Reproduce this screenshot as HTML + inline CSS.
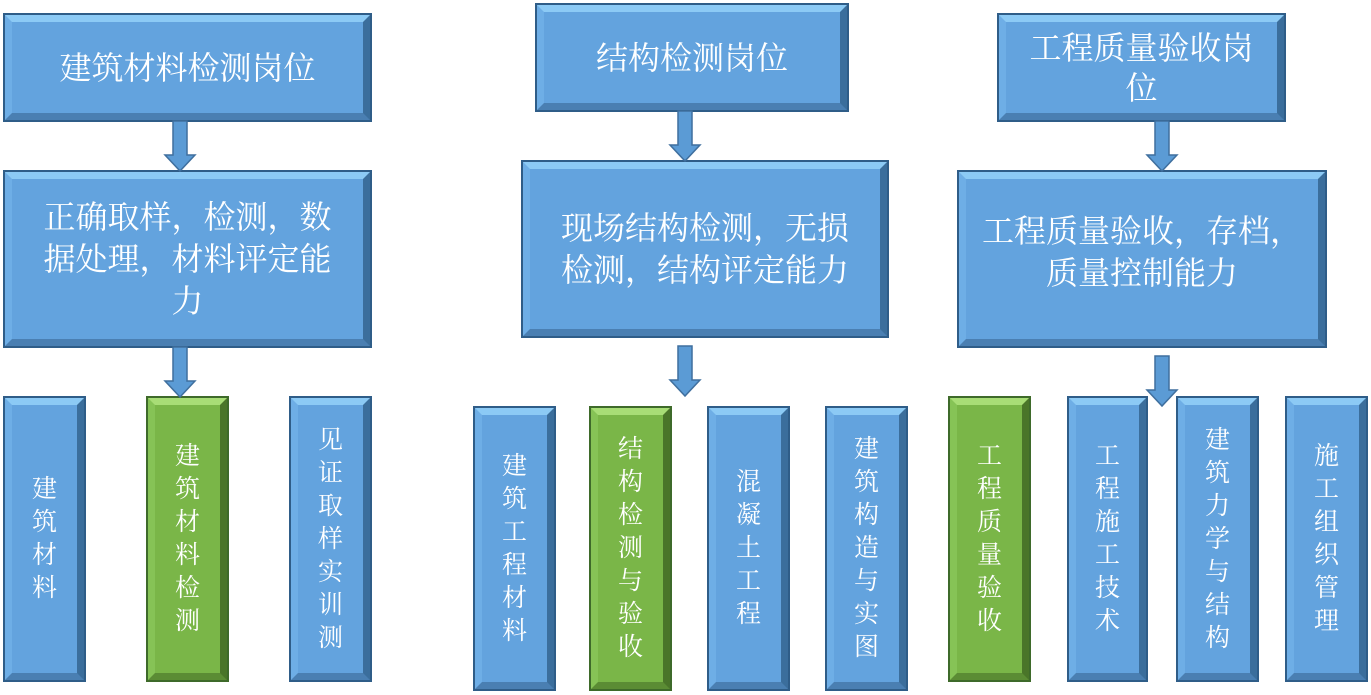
<!DOCTYPE html>
<html><head><meta charset="utf-8"><style>
body{margin:0;width:1371px;height:695px;background:#fff;position:relative;overflow:hidden;font-family:"Liberation Serif","Noto Serif CJK SC",serif;}
.b{position:absolute;box-sizing:border-box;border:2px solid #2f5d88;}
.b .i{position:absolute;inset:0;border-style:solid;border-width:7px;border-color:#8ccaf5 #3b6e9c #4a7fb2 #6eaee6;background:#63a3de;display:flex;align-items:center;justify-content:center;text-align:center;color:#fff;}
.g{border-color:#3e6a2a;}
.g .i{border-color:#a8dd76 #4a7529 #5b8c34 #86c356;background:#7ab648;}
.h{font-size:32px;line-height:42px;}
.v{font-size:25px;line-height:33px;width:28px;word-break:break-all;display:block;text-align:center;}
</style></head><body>
<div class="b" style="left:3px;top:13px;width:369px;height:109px"><div class="i h">建筑材料检测岗位</div></div>
<div class="b" style="left:535px;top:3px;width:314px;height:109px"><div class="i h">结构检测岗位</div></div>
<div class="b" style="left:997px;top:13px;width:289px;height:109px"><div class="i h" style="line-height:40px;padding:0 18px">工程质量验收岗位</div></div>

<div class="b" style="left:3px;top:170px;width:369px;height:178px"><div class="i h" style="padding:0 24px">正确取样，检测，数据处理，材料评定能力</div></div>
<div class="b" style="left:521px;top:160px;width:368px;height:178px"><div class="i h" style="padding:0 26px">现场结构检测，无损检测，结构评定能力</div></div>
<div class="b" style="left:957px;top:170px;width:370px;height:178px"><div class="i h" style="padding:0 12px 14px">工程质量验收，存档，质量控制能力</div></div>

<div class="b" style="left:3px;top:396px;width:83px;height:286px"><div class="i"><span class="v">建筑材料</span></div></div>
<div class="b g" style="left:146px;top:396px;width:83px;height:286px"><div class="i"><span class="v">建筑材料检测</span></div></div>
<div class="b" style="left:289px;top:396px;width:83px;height:286px"><div class="i"><span class="v">见证取样实训测</span></div></div>
<div class="b" style="left:473px;top:406px;width:83px;height:285px"><div class="i"><span class="v">建筑工程材料</span></div></div>
<div class="b g" style="left:589px;top:406px;width:83px;height:285px"><div class="i"><span class="v">结构检测与验收</span></div></div>
<div class="b" style="left:707px;top:406px;width:83px;height:285px"><div class="i"><span class="v">混凝土工程</span></div></div>
<div class="b" style="left:825px;top:406px;width:83px;height:285px"><div class="i"><span class="v">建筑构造与实图</span></div></div>
<div class="b g" style="left:948px;top:396px;width:83px;height:286px"><div class="i"><span class="v">工程质量验收</span></div></div>
<div class="b" style="left:1067px;top:396px;width:81px;height:286px"><div class="i"><span class="v">工程施工技术</span></div></div>
<div class="b" style="left:1176px;top:396px;width:83px;height:286px"><div class="i"><span class="v">建筑力学与结构</span></div></div>
<div class="b" style="left:1285px;top:396px;width:83px;height:286px"><div class="i"><span class="v">施工组织管理</span></div></div>

<svg width="1371" height="695" style="position:absolute;left:0;top:0" >
<defs><g id="a"><path d="M-7,0 H7 V34 H15 L0,50 L-15,34 H-7 Z" fill="#5b9bd5" stroke="#3f6f9e" stroke-width="1.5"/></g></defs>
<use href="#a" x="180" y="121"/>
<use href="#a" x="180" y="347"/>
<use href="#a" x="685" y="111"/>
<use href="#a" x="685" y="346"/>
<use href="#a" x="1162" y="121"/>
<use href="#a" x="1162" y="356"/>
</svg>
</body></html>
